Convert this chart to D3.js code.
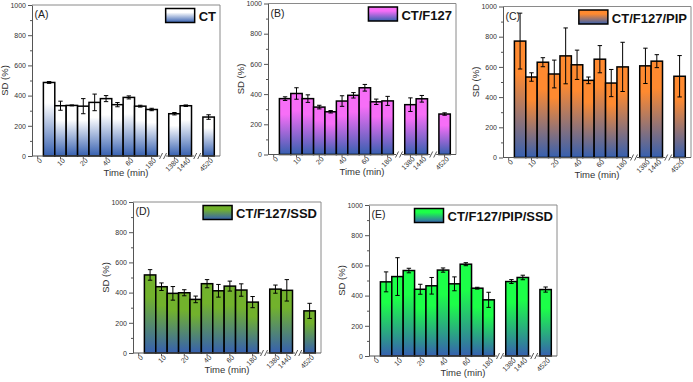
<!DOCTYPE html>
<meta charset="utf-8">
<script src="https://d3js.org/d3.v7.min.js"></script>
<style>
  body { margin: 0; background: #fff; }
  text { font-family: "Liberation Sans", Arial, sans-serif; }
</style>
<div id="chart"></div>
<script>

// time points (min) of the bars, and the x slots they sit in (two axis breaks)
var times = ["5", "10", "15", "20", "30", "40", "50", "60", "120", "180", "1380", "1440", "4520"];
var slots = ["0", "5", "10", "15", "20", "30", "40", "50", "60", "120", "180", "break1", "1380", "1440", "break2", "4520"];
var tickSlots = ["0", "10", "20", "40", "60", "180", "1380", "1440", "4520"];
var breakSlots = ["break1", "break2"];
var yMajor = [0, 200, 400, 600, 800, 1000];
var yMinor = [100, 300, 500, 700, 900];

// SD (%) mean and error for each formulation
var ctMean = [487, 333, 335, 330, 355, 380, 340, 388, 330, 308, 280, 333, 258];
var ctErr  = [6, 30, 3, 50, 55, 20, 14, 10, 6, 8, 8, 5, 15];

var f127Mean = [370, 404, 370, 314, 283, 354, 392, 442, 349, 355, 330, 369, 268];
var f127Err  = [12, 38, 25, 12, 8, 35, 18, 22, 18, 30, 45, 22, 8];

var pipMean = [771, 533, 631, 553, 673, 614, 511, 651, 493, 600, 607, 638, 538];
var pipErr  = [185, 28, 30, 92, 185, 97, 22, 90, 90, 163, 117, 43, 137];

var ssdMean = [517, 439, 395, 399, 355, 459, 412, 443, 417, 337, 423, 415, 279];
var ssdErr  = [35, 25, 45, 20, 22, 27, 42, 33, 41, 37, 27, 71, 50];

var pipSsdMean = [491, 526, 566, 442, 465, 569, 478, 608, 449, 372, 493, 520, 440];
var pipSsdErr  = [66, 125, 15, 33, 55, 14, 46, 10, 6, 50, 13, 15, 17];

var panels = [
  {id: "A", name: "CT",              mean: ctMean,     err: ctErr,     color: "#ffffff", left: 32,  top: 5},
  {id: "B", name: "CT/F127",         mean: f127Mean,   err: f127Err,   color: "#f76ef7", left: 268, top: 3.5},
  {id: "C", name: "CT/F127/PIP",     mean: pipMean,    err: pipErr,    color: "#ff8a30", left: 503, top: 6.5},
  {id: "D", name: "CT/F127/SSD",     mean: ssdMean,    err: ssdErr,    color: "#72b22c", left: 133, top: 202},
  {id: "E", name: "CT/F127/PIP/SSD", mean: pipSsdMean, err: pipSsdErr, color: "#1cff48", left: 369, top: 205}
];
var blue = "#3660b0";

var pw = 188, ph = 151;

var svg = d3.select("#chart")
  .append("svg")
    .attr("width", 693)
    .attr("height", 382);
var defs = svg.append("defs");

var x = d3.scaleBand()
  .domain(slots)
  .range([0, pw])
  .paddingInner(0)
  .paddingOuter(0.25)
  .align(0);
var y = d3.scaleLinear()
  .domain([0, 1000])
  .range([ph, 0]);
var bw = x.bandwidth();

panels.forEach(function(p) {
  // gradient: panel colour on top, blue at the bottom
  var grad = defs.append("linearGradient")
    .attr("id", "grad" + p.id)
    .attr("x1", 0).attr("y1", 0).attr("x2", 0).attr("y2", 1);
  grad.append("stop").attr("offset", "0%").attr("stop-color", p.color);
  grad.append("stop").attr("offset", "28%").attr("stop-color", p.color);
  grad.append("stop").attr("offset", "100%").attr("stop-color", blue);

  var g = svg.append("g")
    .attr("transform", "translate(" + p.left + "," + p.top + ")");

  // frame top / right
  g.append("path")
    .attr("d", "M0,0H" + pw + "V" + ph)
    .attr("fill", "none")
    .attr("stroke", "#8a8a8a")
    .attr("stroke-width", 1);

  // bars
  g.selectAll("rect.bar")
    .data(times)
    .enter()
    .append("rect")
      .attr("class", "bar")
      .attr("x", function(t) { return x(t); })
      .attr("width", bw)
      .attr("y", function(t, i) { return y(p.mean[i]); })
      .attr("height", function(t, i) { return ph - y(p.mean[i]); })
      .attr("fill", "url(#grad" + p.id + ")")
      .attr("stroke", "#000")
      .attr("stroke-width", 1.5);

  // error bars
  var eb = g.selectAll("g.err")
    .data(times)
    .enter()
    .append("g")
      .attr("class", "err")
      .attr("transform", function(t) { return "translate(" + (x(t) + bw / 2) + ",0)"; });
  eb.append("line")
    .attr("y1", function(t, i) { return y(p.mean[i] - p.err[i]); })
    .attr("y2", function(t, i) { return y(p.mean[i] + p.err[i]); })
    .attr("stroke", "#000").attr("stroke-width", 1);
  [-1, 1].forEach(function(s) {
    eb.append("line")
      .attr("x1", -2.2).attr("x2", 2.2)
      .attr("y1", function(t, i) { return y(p.mean[i] + s * p.err[i]); })
      .attr("y2", function(t, i) { return y(p.mean[i] + s * p.err[i]); })
      .attr("stroke", "#000").attr("stroke-width", 1);
  });

  // y axis
  var yAxis = g.append("g")
    .call(d3.axisLeft(y).tickValues(yMajor).tickSize(4).tickSizeOuter(0).tickPadding(2).tickFormat(d3.format("d")));
  g.append("g")
    .call(d3.axisLeft(y).tickValues(yMinor).tickSize(2).tickFormat(""))
    .select(".domain").remove();
  g.selectAll(".tick line").attr("stroke", "#555");
  yAxis.select(".domain").attr("stroke", "#555");
  yAxis.selectAll("text")
    .attr("fill", "#333")
    .style("font-size", "7px");

  // x axis, broken at the two gaps
  var xAxis = g.append("g")
    .attr("transform", "translate(0," + ph + ")")
    .call(d3.axisBottom(x).tickValues(tickSlots).tickSize(3).tickSizeOuter(0));
  xAxis.select(".domain").remove();
  xAxis.selectAll(".tick line").attr("stroke", "#555");
  xAxis.selectAll("text")
    .attr("fill", "#333")
    .style("font-size", "7px")
    .style("text-anchor", "end")
    .attr("y", 2)
    .attr("dy", "0.71em")
    .attr("transform", "rotate(-45)");

  var cuts = breakSlots.map(function(b) { return x(b) + bw / 2; });
  var segs = [[0, cuts[0] - 3], [cuts[0] + 3, cuts[1] - 3], [cuts[1] + 3, pw]];
  xAxis.selectAll("line.seg")
    .data(segs)
    .enter()
    .append("line")
      .attr("class", "seg")
      .attr("x1", function(d) { return d[0]; })
      .attr("x2", function(d) { return d[1]; })
      .attr("stroke", "#555");
  cuts.forEach(function(c) {
    [-2, 2].forEach(function(o) {
      xAxis.append("line")
        .attr("x1", c + o - 1.5).attr("y1", 3)
        .attr("x2", c + o + 1.5).attr("y2", -3)
        .attr("stroke", "#444").attr("stroke-width", 0.9);
    });
  });

  // titles
  g.append("text")
    .attr("transform", "translate(-27," + (ph / 2) + ") rotate(-90)")
    .attr("text-anchor", "middle")
    .attr("dy", "0.35em")
    .attr("fill", "#333")
    .style("font-size", "9.5px")
    .text("SD (%)");
  g.append("text")
    .attr("x", pw / 2)
    .attr("y", ph + 20)
    .attr("text-anchor", "middle")
    .attr("fill", "#333")
    .style("font-size", "9.5px")
    .text("Time (min)");

  // panel letter
  g.append("text")
    .attr("x", 2.5)
    .attr("y", 13)
    .attr("fill", "#222")
    .style("font-size", "10.5px")
    .text("(" + p.id + ")");

  // legend
  var lt = g.append("text")
    .attr("x", pw - 4)
    .attr("y", 16)
    .attr("text-anchor", "end")
    .attr("fill", "#111")
    .style("font-size", "13px")
    .style("font-weight", "bold")
    .text(p.name);
  var tw = lt.node().getComputedTextLength();
  g.append("rect")
    .attr("x", pw - 4 - tw - 4 - 29)
    .attr("y", 3.5)
    .attr("width", 29)
    .attr("height", 14)
    .attr("fill", "url(#grad" + p.id + ")")
    .attr("stroke", "#000")
    .attr("stroke-width", 1.5);
});

</script>
